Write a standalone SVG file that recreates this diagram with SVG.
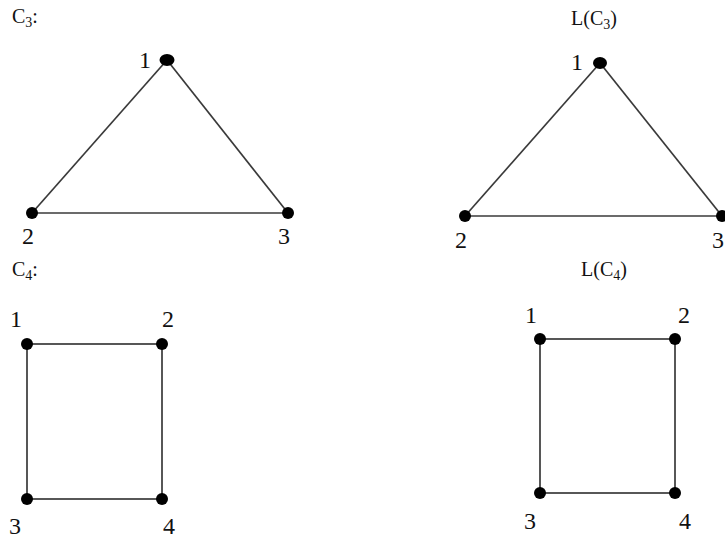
<svg xmlns="http://www.w3.org/2000/svg" width="725" height="538" viewBox="0 0 725 538">
<style>
text{font-family:"Liberation Serif","Times New Roman",serif;fill:#111}
.t{font-size:20px}
.n{font-size:24px}
.e{stroke:#3a3a3a;stroke-width:1.7;fill:none}
.d{fill:#000}
</style>
<rect width="725" height="538" fill="#fff"/>
<g id="titles">
<text class="t" x="12" y="23">C<tspan font-size="14" dy="4">3</tspan><tspan dy="-4">:</tspan></text>
<text class="t" x="571" y="25">L(C<tspan font-size="14" dy="4">3</tspan><tspan dy="-4">)</tspan></text>
<text class="t" x="12" y="276">C<tspan font-size="14" dy="4">4</tspan><tspan dy="-4">:</tspan></text>
<text class="t" x="581" y="276">L(C<tspan font-size="14" dy="4">4</tspan><tspan dy="-4">)</tspan></text>
</g>
<g id="connectors">
<line class="e" x1="167" y1="60" x2="32" y2="213"/>
<line class="e" x1="167" y1="60" x2="288" y2="213"/>
<line class="e" x1="32" y1="213" x2="288" y2="213"/>
<line class="e" x1="600" y1="63" x2="465" y2="216"/>
<line class="e" x1="600" y1="63" x2="722" y2="216"/>
<line class="e" x1="465" y1="216" x2="722" y2="216"/>
<rect class="e" x="27" y="344" width="135" height="155"/>
<rect class="e" x="540" y="339" width="135" height="154"/>
</g>
<g id="c3-1"><ellipse class="d" cx="167" cy="60" rx="7.5" ry="6"/><text class="n" x="139" y="68">1</text></g>
<g id="c3-2"><circle class="d" cx="32" cy="213" r="6"/><text class="n" x="22" y="244">2</text></g>
<g id="c3-3"><circle class="d" cx="288" cy="213" r="6"/><text class="n" x="278" y="244">3</text></g>
<g id="lc3-1"><ellipse class="d" cx="600" cy="63" rx="7" ry="6"/><text class="n" x="571" y="70">1</text></g>
<g id="lc3-2"><circle class="d" cx="465" cy="216" r="6"/><text class="n" x="455" y="248">2</text></g>
<g id="lc3-3"><circle class="d" cx="722" cy="216" r="6"/><text class="n" x="712" y="248">3</text></g>
<g id="c4-1"><circle class="d" cx="27" cy="344" r="6"/><text class="n" x="10" y="327">1</text></g>
<g id="c4-2"><circle class="d" cx="162" cy="344" r="6"/><text class="n" x="162" y="327">2</text></g>
<g id="c4-3"><circle class="d" cx="27" cy="499" r="6"/><text class="n" x="9" y="534">3</text></g>
<g id="c4-4"><circle class="d" cx="162" cy="499" r="6"/><text class="n" x="163" y="534">4</text></g>
<g id="lc4-1"><circle class="d" cx="540" cy="339" r="6"/><text class="n" x="525" y="323">1</text></g>
<g id="lc4-2"><circle class="d" cx="675" cy="339" r="6"/><text class="n" x="678" y="323">2</text></g>
<g id="lc4-3"><circle class="d" cx="540" cy="493" r="6"/><text class="n" x="524" y="529">3</text></g>
<g id="lc4-4"><circle class="d" cx="675" cy="493" r="6"/><text class="n" x="679" y="529">4</text></g>
</svg>
